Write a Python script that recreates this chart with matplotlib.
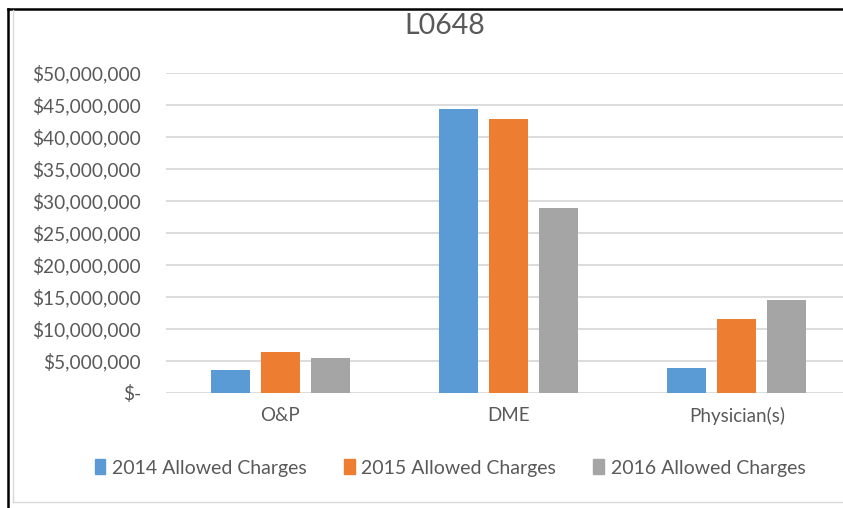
import matplotlib
matplotlib.use("Agg")
import matplotlib.pyplot as plt
from matplotlib.lines import Line2D
from matplotlib.patches import Patch
from matplotlib.ticker import FuncFormatter

plt.rcParams['font.family'] = ['Lato', 'DejaVu Sans']

# data
categories = ['O&P', 'DME', 'Physician(s)']
series = ['2014 Allowed Charges', '2015 Allowed Charges', '2016 Allowed Charges']
charges_2014 = [3.6e6, 44.4e6, 3.9e6]
charges_2015 = [6.4e6, 42.8e6, 11.6e6]
charges_2016 = [5.5e6, 28.9e6, 14.5e6]
colors = ['#5B9BD5', '#ED7D31', '#A5A5A5']
text_c = '#595959'

W, H = 843, 508
fig = plt.figure(figsize=(W / 100, H / 100), dpi=100)

ax = fig.add_axes([166 / W, 1 - 393 / H, 685 / W, 320 / H])
x = list(range(len(categories)))
bw = 0.171
off = 0.219
for i, (vals, c) in enumerate(zip([charges_2014, charges_2015, charges_2016], colors)):
    ax.bar([k + (i - 1) * off for k in x], vals, width=bw, color=c, zorder=3)

ax.set_xlim(-0.5, 2.5)
ax.set_ylim(0, 50e6)
ax.set_yticks([i * 5e6 for i in range(11)])
ax.yaxis.set_major_formatter(FuncFormatter(lambda v, p: '$-' if v == 0 else '${:,.0f}'.format(v)))
ax.grid(axis='y', color='#D9D9D9', lw=1.3, zorder=0)
for s in ax.spines.values():
    s.set_visible(False)
ax.tick_params(axis='y', length=0, pad=18, labelsize=13.8, labelcolor=text_c)
ax.tick_params(axis='x', length=0, pad=10, labelsize=13.5, labelcolor=text_c)
ax.set_xticks(x)
ax.set_xticklabels(categories)

fig.text(445 / W, 1 - 26 / H, 'L0648', ha='center', va='center', fontsize=20.5, color=text_c)

handles = [Patch(color=c) for c in colors]
fig.legend(handles, series, loc='center', bbox_to_anchor=(450 / W, 1 - 468 / H), ncol=3,
           frameon=False, fontsize=14, labelcolor=text_c, handlelength=0.55, handleheight=0.8,
           handletextpad=0.35, columnspacing=1.9)

# frame of the screenshot
fig.add_artist(Line2D([7.5 / W, 1], [1 - 8.5 / H] * 2, color='black', lw=1.8))
fig.add_artist(Line2D([7.5 / W] * 2, [0, 1 - 8.5 / H], color='black', lw=1.8))
fig.add_artist(Line2D([12.5 / W] * 2, [1 - 502 / H, 1 - 10 / H], color='#D9D9D9', lw=1))
fig.add_artist(Line2D([12.5 / W, 1], [1 - 502 / H] * 2, color='#D9D9D9', lw=1))

fig.savefig('out.png', dpi=100)
